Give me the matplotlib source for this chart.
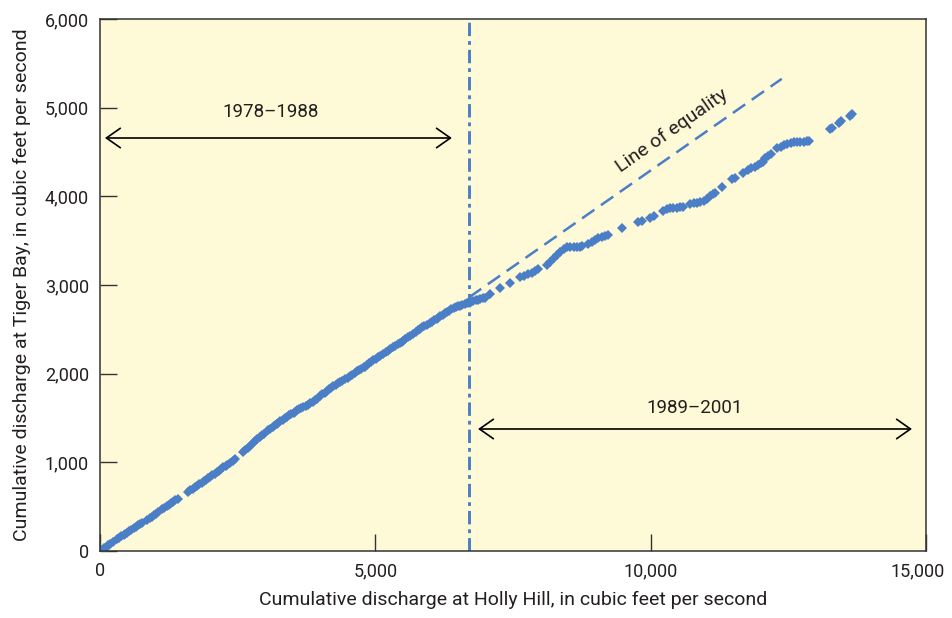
import matplotlib.pyplot as plt
import matplotlib.transforms as mtransforms

plt.rcParams['font.family'] = ['Liberation Sans Narrow', 'Roboto', 'DejaVu Sans']

# Cumulative discharge, Holly Hill (x) vs Tiger Bay (y), cubic feet per second
x_78_88 = [0, 40, 80, 120, 150, 190, 230, 310, 350, 390, 430, 455,
           490, 530, 570, 610, 650, 690, 730, 770, 860, 900, 940, 980, 1020, 1050,
           1130, 1170, 1210, 1250, 1290, 1330, 1370, 1410, 1600, 1640, 1685,
           1725, 1765, 1805, 1845, 1885, 1925, 1960, 2000, 2040, 2080, 2120, 2160,
           2200, 2240, 2280, 2305, 2365, 2410, 2450,
           2600, 2640, 2680, 2720, 2780, 2820, 2860, 2900, 2940, 2980,
           3055, 3095, 3135, 3175, 3210, 3235, 3275, 3315, 3355, 3395, 3435, 3475,
           3515, 3540, 3575, 3615, 3655, 3695, 3735, 3775, 3820, 3860, 3900, 3940,
           4000, 4040, 4080, 4120, 4160, 4200, 4240, 4280, 4320, 4360, 4400, 4445,
           4505, 4545, 4585, 4625, 4665, 4705, 4745, 4790, 4810, 4850, 4890, 4930,
           4965, 5005, 5045, 5080, 5145, 5185, 5225, 5262,
           5325, 5365, 5405, 5445, 5480, 5505, 5545, 5585, 5625,
           5690, 5730, 5770, 5810, 5850, 5890, 5930, 5990, 6030, 6070, 6115,
           6140, 6180, 6220, 6260, 6300, 6340, 6380, 6420, 6460, 6500, 6540, 6580,
           6620, 6660]
y_78_88 = [0, 15, 32, 50, 65, 80, 98, 135, 150, 166, 182, 192,
           208, 225, 242, 258, 274, 290, 305, 320, 355, 372, 388, 405, 422, 435,
           470, 487, 505, 522, 540, 557, 574, 590, 670, 686, 704,
           720, 737, 754, 770, 788, 805, 820, 838, 855, 872, 890, 907,
           925, 943, 960, 972, 998, 1018, 1036,
           1120, 1140, 1160, 1180, 1215, 1238, 1262, 1285, 1305, 1325,
           1360, 1380, 1400, 1418, 1433, 1445, 1462, 1480, 1498, 1514, 1530, 1545,
           1560, 1570, 1585, 1598, 1612, 1625, 1638, 1650, 1668, 1684, 1700, 1716,
           1748, 1767, 1787, 1806, 1825, 1843, 1860, 1877, 1893, 1908, 1922, 1935,
           1955, 1972, 1990, 2008, 2025, 2040, 2055, 2070, 2078, 2095, 2115, 2133,
           2150, 2168, 2186, 2200, 2225, 2243, 2260, 2275,
           2300, 2316, 2332, 2348, 2362, 2372, 2390, 2408, 2425,
           2450, 2470, 2490, 2508, 2524, 2538, 2552, 2572, 2588, 2605, 2622,
           2632, 2648, 2665, 2682, 2698, 2712, 2725, 2737, 2748, 2758, 2768, 2778,
           2787, 2795]

x_89_01 = [6700, 6740, 6780, 6820, 6860, 6900, 6950, 6990,
           7082, 7264, 7446, 7630, 7700, 7770, 7840, 7900, 7950,
           8120, 8180, 8240, 8300, 8360, 8420, 8480, 8540, 8600, 8660, 8720, 8750,
           8870, 8930, 8990, 9050, 9110, 9170, 9220,
           9480, 9770, 9840, 9990, 10060,
           10230, 10290, 10350, 10410, 10470, 10530, 10585,
           10720, 10780, 10840, 10900, 10960, 11020, 11080, 11140, 11165,
           11300, 11480, 11530, 11670,
           11770, 11830, 11890, 11950, 12010, 12040, 12080, 12130, 12180,
           12300, 12360, 12420, 12480, 12540, 12600, 12660, 12720, 12780, 12840, 12880,
           13260, 13300, 13420, 13460, 13620, 13660]
y_89_01 = [2803, 2810, 2818, 2826, 2833, 2840, 2848, 2855,
           2899, 2965, 3027, 3090, 3105, 3120, 3140, 3158, 3180,
           3225, 3260, 3300, 3340, 3375, 3405, 3425, 3432, 3430, 3428, 3430, 3435,
           3465, 3485, 3505, 3525, 3545, 3555, 3562,
           3643, 3705, 3718, 3760, 3775,
           3840, 3855, 3865, 3870, 3872, 3875, 3880,
           3915, 3922, 3930, 3940, 3952, 3975, 4000, 4025, 4040,
           4105, 4190, 4210, 4262,
           4300, 4318, 4335, 4355, 4375, 4388, 4430, 4460, 4480,
           4540, 4560, 4580, 4595, 4605, 4610, 4612, 4615, 4617, 4620, 4622,
           4760, 4775, 4830, 4845, 4905, 4925]

# line of equality (extension of the 1978-1988 relation)
eq_x = [6700, 12380]
eq_y = [2860, 5325]
break_x = 6700

blue = '#4A7EC6'
ink = '#231F20'

fig = plt.figure(figsize=(9.52, 6.18), dpi=100)
ax = fig.add_axes([100 / 952, 67 / 618, 826 / 952, 532 / 618])
ax.set_facecolor('#FEF9D6')

ax.plot(eq_x, eq_y, color=blue, lw=1.8, dashes=(6, 3.2))
ax.axvline(break_x, color=blue, lw=2.1, dashes=(4.6, 1.7, 1.3, 1.7))
ax.plot(x_78_88, y_78_88, 'D', color=blue, ms=5.6, mew=0)
ax.plot(x_89_01, y_89_01, 'D', color=blue, ms=5.6, mew=0)

arrow = dict(arrowstyle='<->,head_length=0.5,head_width=0.35', lw=1.2,
             color='black', mutation_scale=20, shrinkA=0, shrinkB=0)
ax.annotate('', xy=(90, 4658), xytext=(6390, 4658), arrowprops=arrow)
ax.annotate('', xy=(6865, 1376), xytext=(14745, 1376), arrowprops=arrow)
ax.text(3090, 4950, '1978\u20131988', ha='center', va='center', fontsize=13.5, color=ink)
ax.text(10800, 1613, '1989\u20132001', ha='center', va='center', fontsize=13.5, color=ink)
ax.text(10380, 4740, 'Line of equality', ha='center', va='center', fontsize=14,
        rotation=35, color=ink)

ax.set_xlim(0, 15000)
ax.set_ylim(0, 6000)
ax.set_xticks([0, 5000, 10000, 15000])
ax.set_yticks(range(0, 7000, 1000))
ax.set_xticklabels(['0', '5,000', '10,000', '15,000'])
ax.set_yticklabels(['0', '1,000', '2,000', '3,000', '4,000', '5,000', '6,000'])
ax.tick_params(direction='in', length=12, width=1, color='#333333',
               labelsize=13, labelcolor=ink, pad=8)
for s in ax.spines.values():
    s.set_color('#333333')
    s.set_linewidth(1.1)

# keep the last x tick label inside the figure
last = ax.get_xticklabels()[-1]
last.set_transform(last.get_transform() +
                   mtransforms.ScaledTranslation(-8 / 100, 0, fig.dpi_scale_trans))

ax.set_xlabel('Cumulative discharge at Holly Hill, in cubic feet per second',
              fontsize=14, color=ink, labelpad=8)
ax.set_ylabel('Cumulative discharge at Tiger Bay, in cubic feet per second',
              fontsize=14, color=ink, labelpad=10)

fig.savefig('out.png', dpi=100)
